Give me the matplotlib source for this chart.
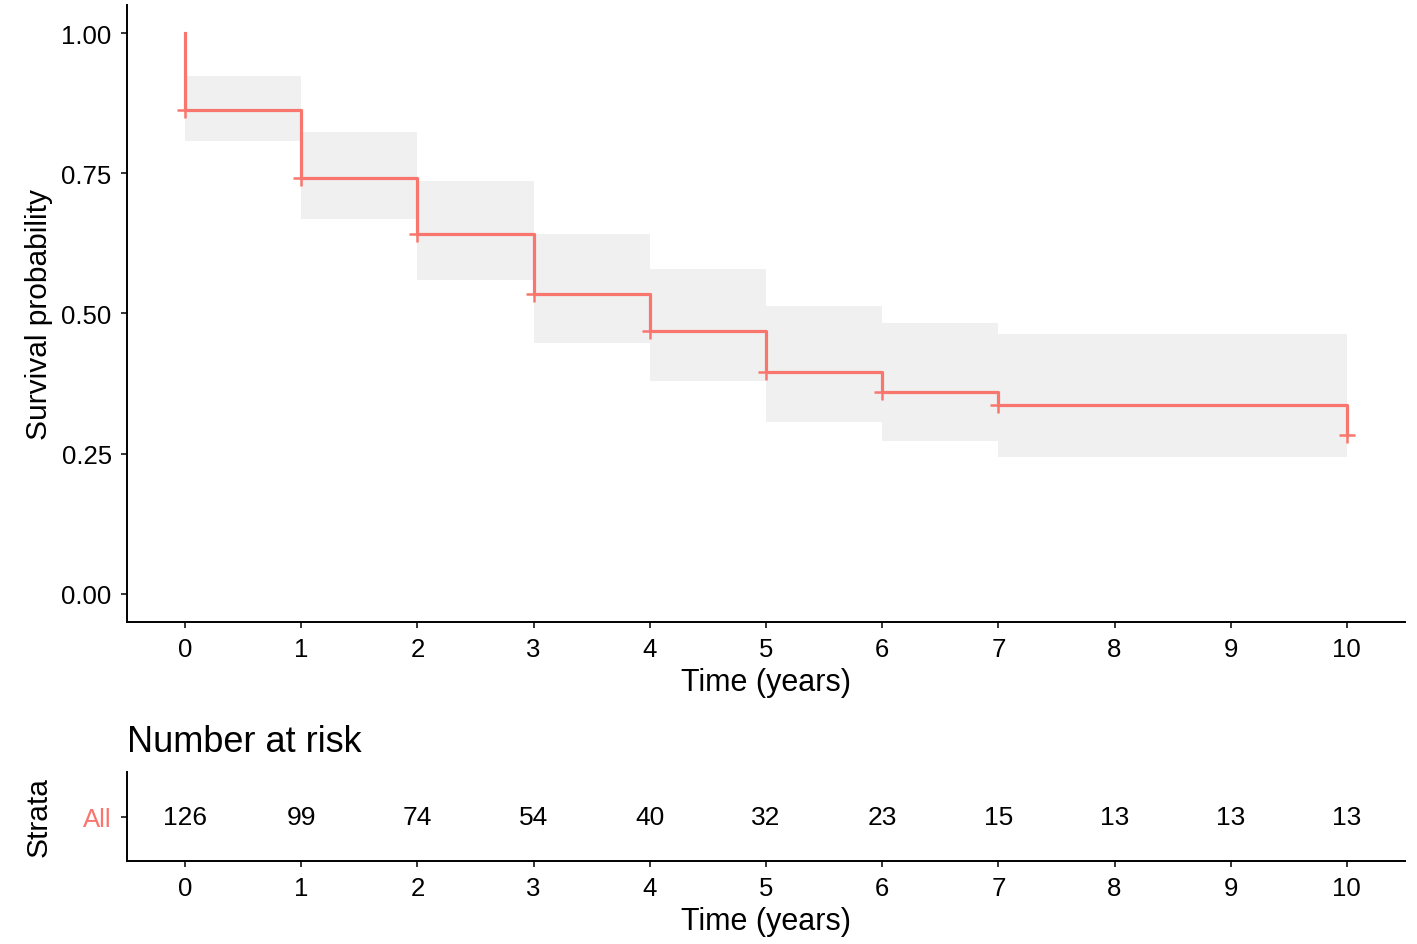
import matplotlib.pyplot as plt
import numpy as np

plt.rcParams['font.family'] = ['Liberation Sans', 'DejaVu Sans']

# Kaplan-Meier estimate
times = [0, 1, 2, 3, 4, 5, 6, 7, 10]
surv = [0.863, 0.742, 0.641, 0.534, 0.469, 0.395, 0.360, 0.337, 0.284]

# confidence band per interval [0,1], [1,2], ..., [6,7], [7,10]
ci_upper = [0.924, 0.823, 0.737, 0.641, 0.580, 0.513, 0.483, 0.464]
ci_lower = [0.807, 0.669, 0.559, 0.448, 0.379, 0.306, 0.272, 0.244]

# number at risk
risk_times = [0, 1, 2, 3, 4, 5, 6, 7, 8, 9, 10]
n_risk = [126, 99, 74, 54, 40, 32, 23, 15, 13, 13, 13]

line_col = '#F8766D'
band_col = '#F0F0F0'

fig = plt.figure(figsize=(14.17, 9.45), dpi=100)
ax = fig.add_axes([0.0896, 0.3407, 0.9019, 0.6530])
ax2 = fig.add_axes([0.0896, 0.0878, 0.9019, 0.0942])

# ribbon
band_x = times
ax.fill_between(band_x, ci_lower + [ci_lower[-1]], ci_upper + [ci_upper[-1]],
                step='post', color=band_col, linewidth=0, zorder=1)

# survival step curve (starts at 1.0 at time 0)
step_x = [0] + times
step_y = [1.0] + surv
ax.step(step_x, step_y, where='post', color=line_col, linewidth=2.3, zorder=3)
ax.plot(times, surv, linestyle='none', marker='+', markersize=11,
        markeredgewidth=1.8, color=line_col, zorder=4)

ax.set_xlim(-0.5, 10.5)
ax.set_ylim(-0.05, 1.05)
ax.set_xticks(risk_times)
ax.set_yticks([0, 0.25, 0.5, 0.75, 1.0])
ax.set_yticklabels(['0.00', '0.25', '0.50', '0.75', '1.00'])
ax.set_xlabel('Time (years)', fontsize=22, labelpad=4)
ax.set_ylabel('Survival probability', fontsize=21.5, labelpad=6)

for a in (ax, ax2):
    for s in ('top', 'right'):
        a.spines[s].set_visible(False)
    for s in ('left', 'bottom'):
        a.spines[s].set_linewidth(1.4)
    a.tick_params(axis='both', labelsize=18.5, length=4, width=1.1,
                  pad=7, colors='black')

# risk table
for t, n in zip(risk_times, n_risk):
    ax2.text(t, 0, str(n), ha='center', va='center', fontsize=19)
ax2.set_xlim(-0.5, 10.5)
ax2.set_ylim(-0.5, 0.5)
ax2.set_xticks(risk_times)
ax2.set_yticks([0])
ax2.set_yticklabels(['All'])
ax2.get_yticklabels()[0].set_color(line_col)
ax2.set_xlabel('Time (years)', fontsize=22, labelpad=4)
ax2.set_ylabel('Strata', fontsize=21.5, labelpad=22)

fig.text(0.0896, 0.204, 'Number at risk', fontsize=26, ha='left', va='baseline')

fig.savefig('out.png', dpi=100)
